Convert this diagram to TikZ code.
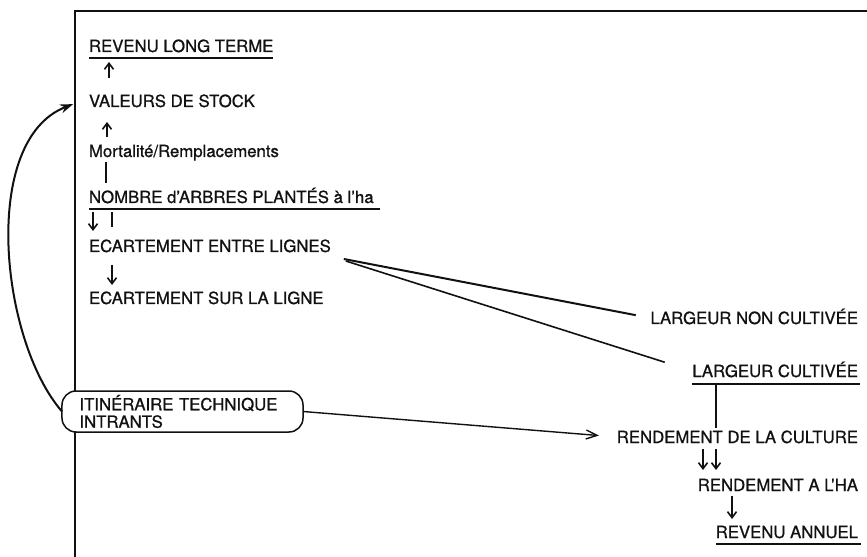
\documentclass[tikz,border=0pt]{standalone}
\usepackage{fontspec}
\setmainfont{TeX Gyre Heros}[FakeBold=0.9]
\usetikzlibrary{arrows.meta,calc}
\definecolor{ink}{HTML}{111111}
\newcommand{\labelfont}{\fontsize{16.8}{15}\selectfont}
\newcommand{\boxfont}{\fontsize{16.8}{17.5}\selectfont}
\tikzset{
  every node/.style={font=\labelfont,text=ink,inner sep=0pt,outer sep=0pt},
  term/.style={text height=12bp,text depth=0bp},
  itinbox/.style={draw=ink,line width=1.5bp,fill=white,rounded corners=14bp,font=\boxfont,
    minimum width=241bp,minimum height=41bp,text width=206bp,align=left},
  frame/.style={line width=1.5bp,draw=ink},
  uline/.style={line width=2bp,draw=ink},
  tie/.style={line width=1.6bp,draw=ink},
  flow/.style={line width=1.6bp,draw=ink,-{Straight Barb[length=6bp,width=9bp]}},
  feed/.style={line width=1.4bp,draw=ink,-{Straight Barb[length=11bp,width=9bp]}},
  loopback/.style={line width=2bp,draw=ink,-{Stealth[length=13bp,width=9bp]}}
}
\begin{document}
\begin{tikzpicture}[x=1bp,y=-1bp]

\path[use as bounding box] (0,0) rectangle (867,557);
% open frame: top and left sides only
\draw[frame] (867,11) -- (75,11) -- (75,557);

% left column, long-term side
\node[term,anchor=base west] (revlt) at (89,52) {REVENU LONG TERME};
\node[term,anchor=base west] (valstock) at (89,107) {VALEURS DE STOCK};
\node[term,anchor=base west] (mortal) at (89,157) {Mortalité/Remplacements};
\node[term,anchor=base west] (nombre) at (89,203) {NOMBRE d'ARBRES PLANTÉS à l'ha};
\node[term,anchor=base west] (ecartl) at (89,252) {ECARTEMENT ENTRE LIGNES};
\node[term,anchor=base west] (ecarts) at (89,304) {ECARTEMENT SUR LA LIGNE};
\draw[uline] ([yshift=-6bp]revlt.base west) -- ([yshift=-6bp]revlt.base east);
\draw[uline] ([yshift=-6bp]nombre.base west) -- ([xshift=6bp,yshift=-6bp]nombre.base east);

% right column, annual side
\node[term,anchor=base east] (largnc) at (858,324) {LARGEUR NON CULTIVÉE};
\node[term,anchor=base east] (largc) at (858,377) {LARGEUR CULTIVÉE};
\node[term,anchor=base east] (rendcult) at (858,443) {RENDEMENT DE LA CULTURE};
\node[term,anchor=base east] (rendha) at (858,491) {RENDEMENT A L'HA};
\node[term,anchor=base east] (revann) at (858,538) {REVENU ANNUEL};
\draw[uline] ([yshift=-7bp]largc.base west) -- ([xshift=2bp,yshift=-7bp]largc.base east);
\draw[uline] ([yshift=-6bp]revann.base west) -- ([xshift=3bp,yshift=-6bp]revann.base east);

\node[itinbox] (itin) at (182.5,411.5) {ITINÉRAIRE TECHNIQUE\\INTRANTS};

\draw[flow,shorten <=17bp,shorten >=10bp] ([xshift=20bp]valstock.north west) -- ([xshift=20bp]revlt.south west);
\draw[flow,shorten <=8bp,shorten >=15bp] ([xshift=18bp]mortal.north west) -- ([xshift=18bp]valstock.south west);
\draw[tie,shorten <=5bp,shorten >=8bp] ([xshift=17bp]mortal.south west) -- ([xshift=17bp]nombre.north west);
\draw[flow,shorten <=9bp,shorten >=9bp] ([xshift=4bp]nombre.south west) -- ([xshift=4bp]ecartl.north west);
\draw[tie,shorten <=9bp,shorten >=13bp] ([xshift=23bp]nombre.south west) -- ([xshift=23bp]ecartl.north west);
\draw[flow,shorten <=13bp,shorten >=7bp] ([xshift=23bp]ecartl.south west) -- ([xshift=23bp]ecarts.north west);

% row spacing splits into two widths
\draw[tie,line width=2bp,shorten >=15bp] ([shift={(13,7)}]ecartl.south east) -- (largnc.west);
\draw[tie,shorten >=29bp] ([shift={(15,9)}]ecartl.south east) -- (largc.west);

\draw[tie,shorten <=7bp,shorten >=3bp] ([xshift=-142bp]largc.south east) -- ([xshift=-142bp]rendcult.north east);
\draw[flow,shorten <=6bp,shorten >=9bp] ([xshift=-155bp]rendcult.south east) -- ([xshift=-155bp]rendha.north east);
\draw[flow,shorten <=6bp,shorten >=9bp] ([xshift=-142bp]rendcult.south east) -- ([xshift=-142bp]rendha.north east);
\draw[flow,shorten <=5bp,shorten >=7bp] ([xshift=-126bp]rendha.south east) -- ([xshift=-126bp]revann.north east);

\draw[feed,shorten >=18bp] (itin.east) -- (rendcult.west);
\draw[loopback,shorten >=17bp] (itin.west) .. controls (0,340) and (-20,140) .. ([yshift=3bp]valstock.west);
\end{tikzpicture}
\end{document}
